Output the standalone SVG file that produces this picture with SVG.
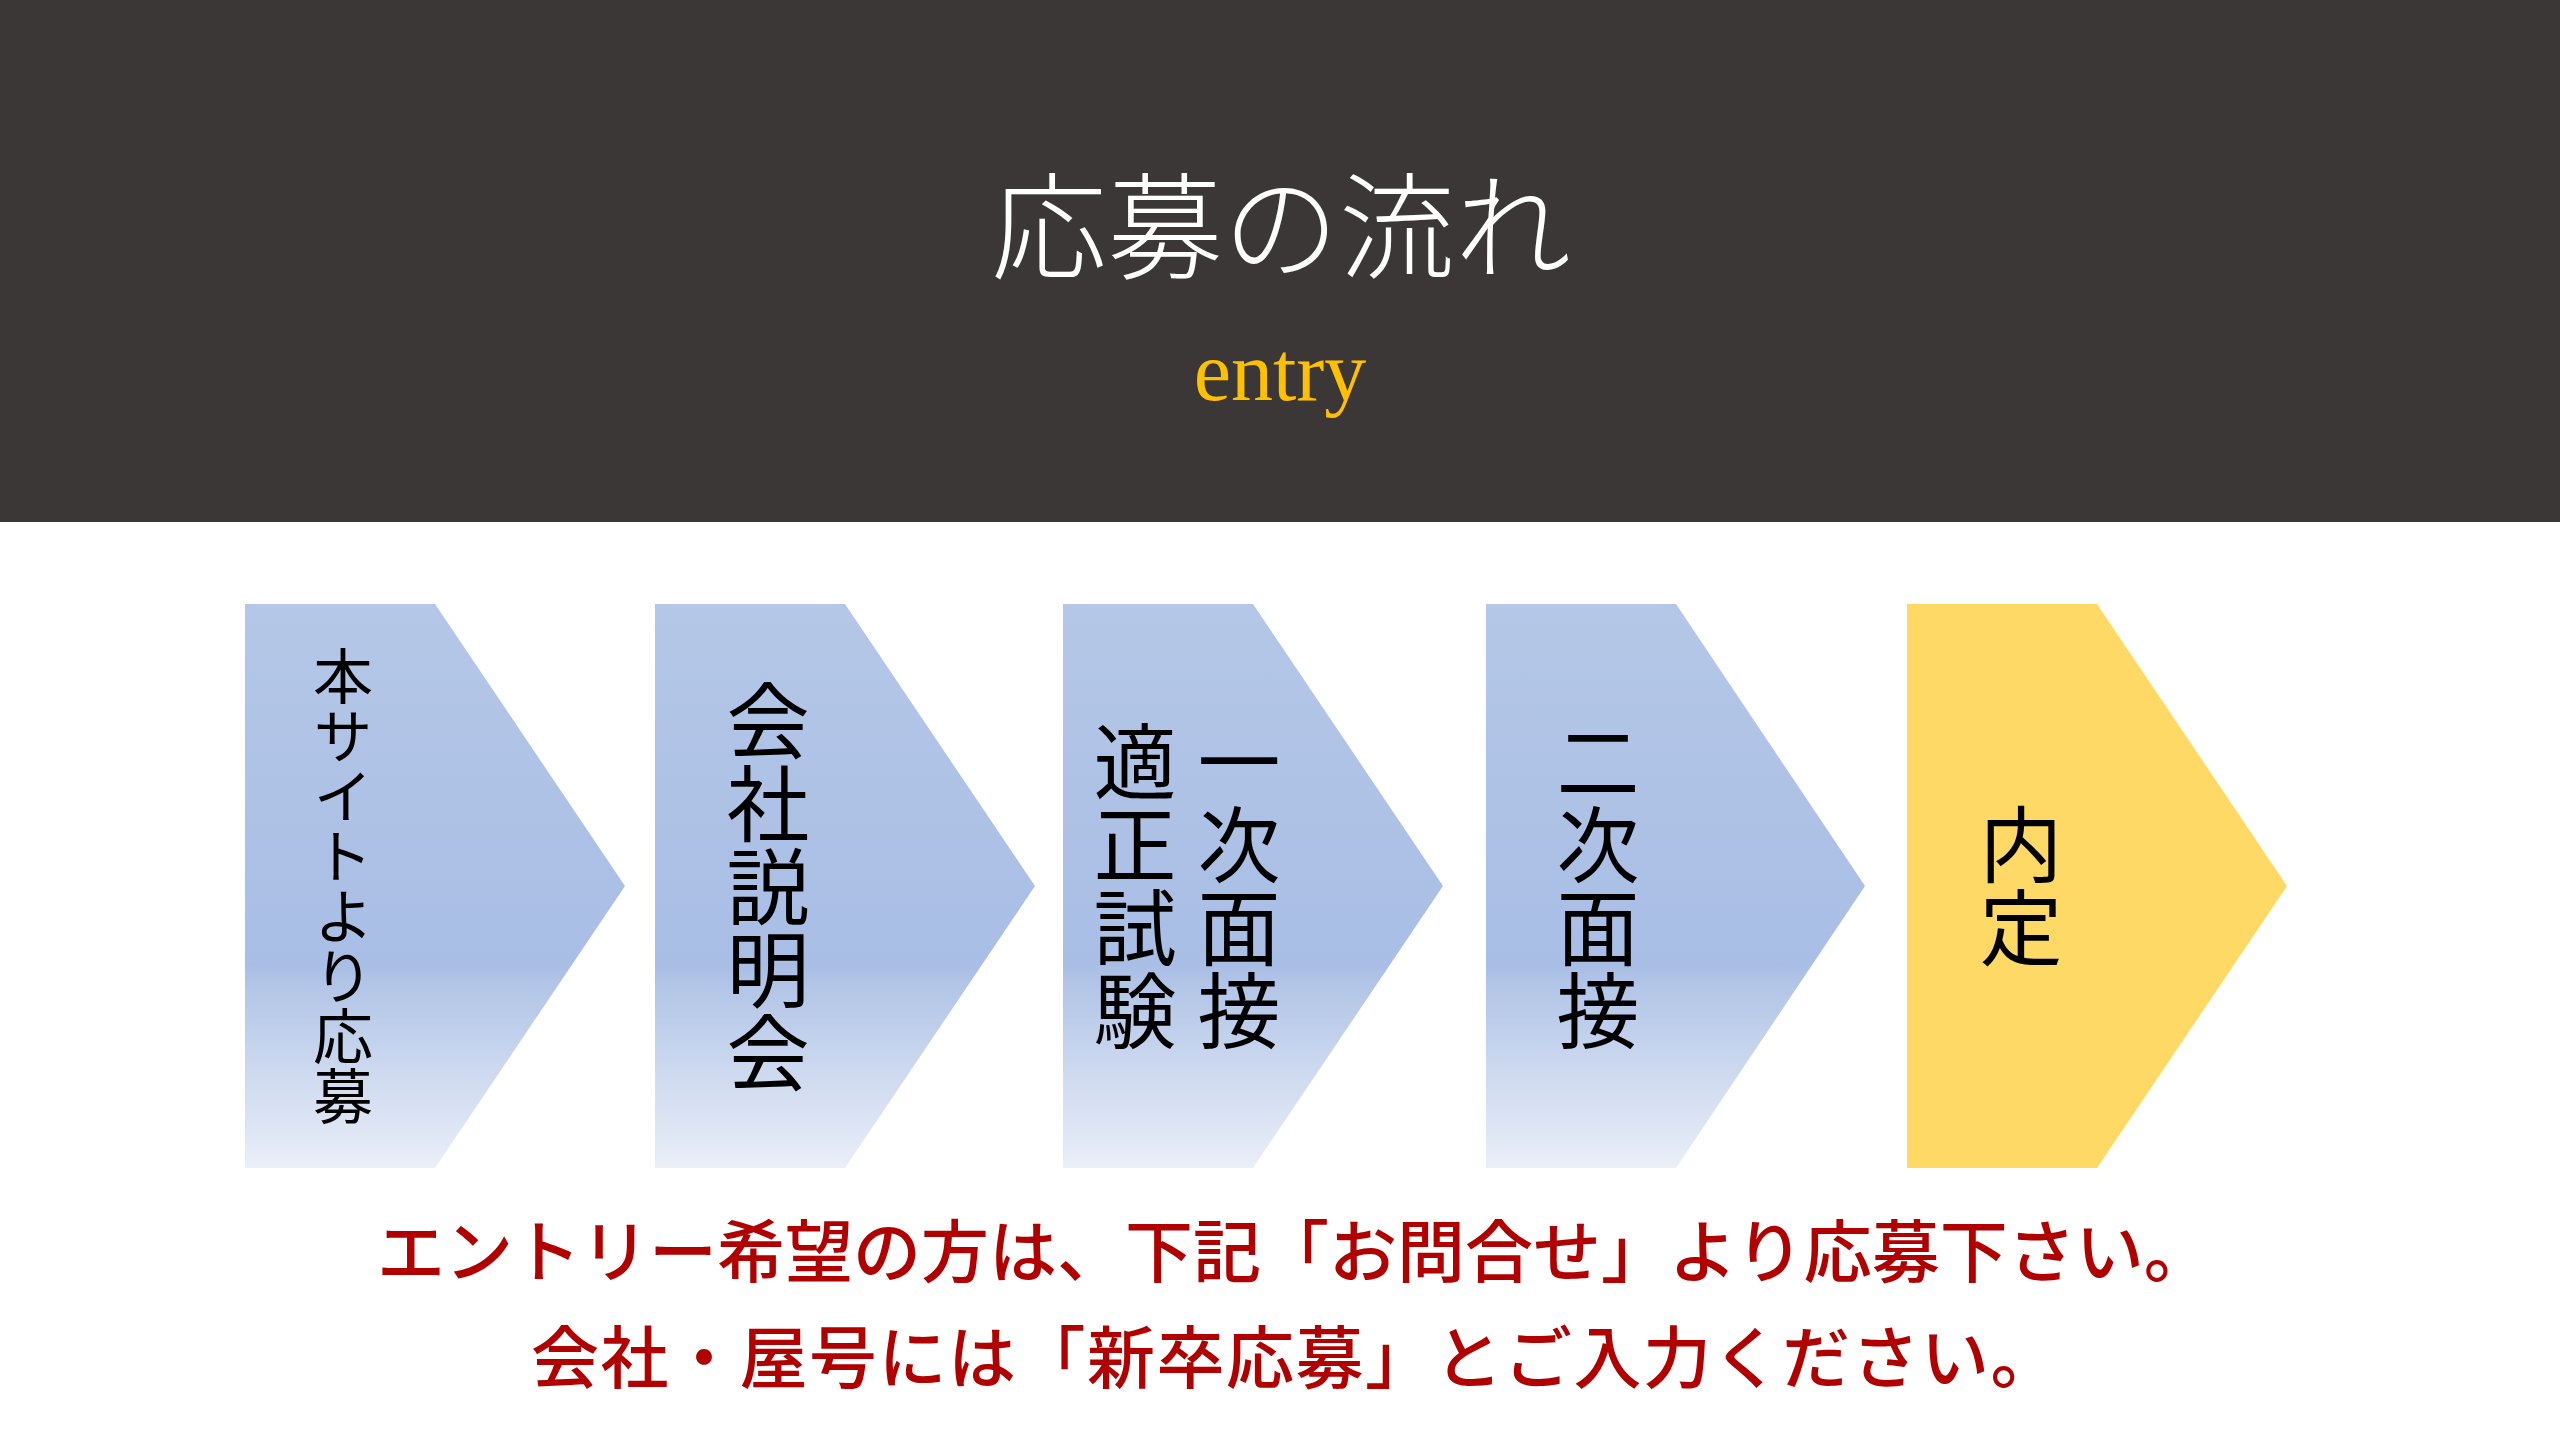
<svg xmlns="http://www.w3.org/2000/svg" width="2560" height="1449" viewBox="0 0 2560 1449">
<style>
.jp{font-family:"Noto Sans CJK JP","Noto Sans CJK SC",sans-serif}
.vt{font-family:"Noto Sans CJK JP",sans-serif;writing-mode:vertical-rl;text-anchor:middle;fill:#000}
.red{font-family:"Noto Sans CJK JP",sans-serif;fill:#b00000;font-size:68px;font-weight:500}
</style>
<defs>
<linearGradient id="blueGrad" x1="0" y1="0" x2="0" y2="1">
<stop offset="0" stop-color="#b4c7e7"/>
<stop offset="0.64" stop-color="#a9bee5"/>
<stop offset="0.68" stop-color="#b3c6e7"/>
<stop offset="1" stop-color="#eaeff8"/>
</linearGradient>
</defs>
<rect width="2560" height="1449" fill="#ffffff"/>
<g id="header">
<rect x="0" y="0" width="2560" height="522" fill="#3b3737"/>
<text x="1281" y="270" text-anchor="middle" class="jp" font-size="116" font-weight="300" fill="#ffffff">応募の流れ</text>
<text x="1280" y="400" text-anchor="middle" font-family="Liberation Serif, serif" font-size="84" fill="#ffc000">entry</text>
</g>
<g id="connectors"></g>
<g id="step1">
<polygon points="245,604 435,604 625,886 435,1168 245,1168" fill="url(#blueGrad)"/>
<text x="343" y="886" class="vt" font-size="60">本サイトより応募</text>
</g>
<g id="step2">
<polygon points="655,604 845,604 1035,886 845,1168 655,1168" fill="url(#blueGrad)"/>
<text x="768" y="886" class="vt" font-size="83">会社説明会</text>
</g>
<g id="step3">
<polygon points="1063,604 1253,604 1443,886 1253,1168 1063,1168" fill="url(#blueGrad)"/>
<text x="1239" y="886" class="vt" font-size="83">一次面接</text>
<text x="1135" y="886" class="vt" font-size="83">適正試験</text>
</g>
<g id="step4">
<polygon points="1486,604 1676,604 1865,886 1676,1168 1486,1168" fill="url(#blueGrad)"/>
<text x="1598" y="886" class="vt" font-size="83">二次面接</text>
</g>
<g id="step5">
<polygon points="1907,604 2097,604 2287,886 2097,1168 1907,1168" fill="#ffd966"/>
<text x="2021" y="886" class="vt" font-size="83">内定</text>
</g>
<g id="note">
<text x="377" y="1277" class="red">エントリー希望の方は、下記「お問合せ」より応募下さい。</text>
<text x="531" y="1383" class="red" letter-spacing="1.5">会社・屋号には「新卒応募」とご入力ください。</text>
</g>
</svg>
